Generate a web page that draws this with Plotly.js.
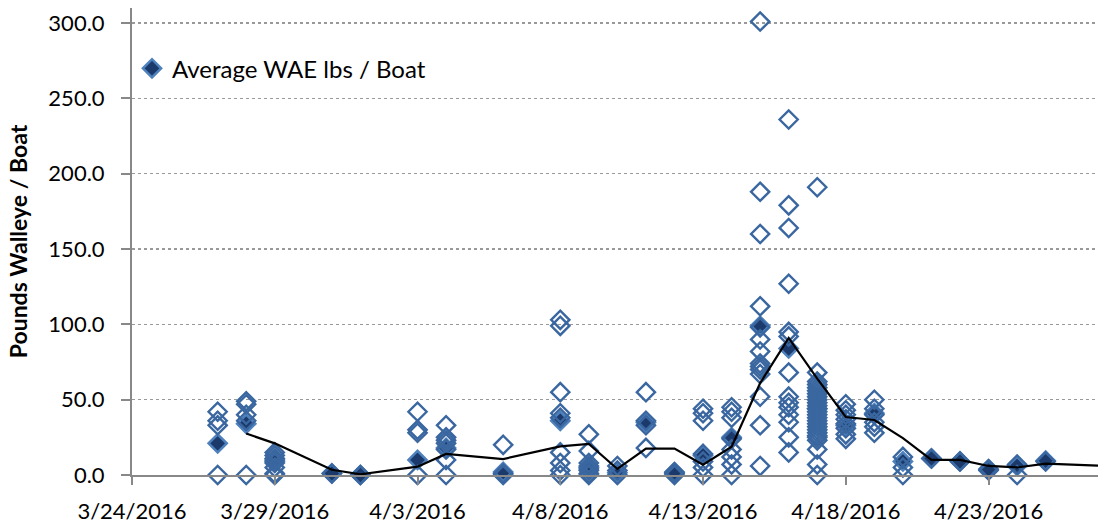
<!DOCTYPE html>
<html>
<head>
<meta charset="utf-8">
<script src="https://cdn.plot.ly/plotly-3.0.1.min.js"></script>
<style>html,body{margin:0;padding:0;background:#fff;}#chart{width:1098px;height:525px;}</style>
</head>
<body>
<div id="chart"></div>
<script>
// Individual boat catches (hollow diamonds), per survey day
const boatDays = ['2016-03-27','2016-03-28','2016-03-29','2016-03-31','2016-04-01','2016-04-03','2016-04-04','2016-04-06','2016-04-08','2016-04-09','2016-04-10','2016-04-11','2016-04-12','2016-04-13','2016-04-14','2016-04-15','2016-04-16','2016-04-17','2016-04-18','2016-04-19','2016-04-20','2016-04-21','2016-04-22','2016-04-23','2016-04-24','2016-04-25'];
const boatLbs = [
  [42, 36, 33, 0],
  [49, 47, 40, 36, 0],
  [15, 13, 11, 10, 8, 5, 1, 0],
  [1],
  [0],
  [42, 30, 28, 0],
  [33, 25, 23, 21, 17, 10, 0],
  [20, 1, 0],
  [103, 99, 55, 41, 38, 15, 8, 3, 0],
  [27, 16, 8, 6, 4, 3, 1, 0],
  [6, 3, 0],
  [55, 36, 33, 18],
  [2, 1, 0],
  [44, 41, 36, 14, 9, 5, 0],
  [45, 42, 38, 24, 17, 12, 7, 0],
  [301, 188, 160, 112, 98, 90, 82, 74, 72, 70, 67, 52, 33, 6],
  [236, 179, 164, 127, 95, 92, 68, 52, 48, 45, 40, 35, 25, 15],
  [191, 68, 62, 60, 58, 56, 54, 52, 50, 48, 46, 44, 42, 40, 38, 36, 34, 32, 30, 28, 26, 25, 23, 17, 7, 0],
  [47, 43, 40, 37, 34, 31, 27, 24],
  [50, 44, 40, 35, 32, 28],
  [12, 5, 0],
  [11],
  [9],
  [4, 3],
  [7, 0],
  [9]
];

// Daily average (filled diamonds)
const avgDates = ['2016-03-27','2016-03-28','2016-03-29','2016-03-31','2016-04-01','2016-04-03','2016-04-04','2016-04-06','2016-04-08','2016-04-09','2016-04-10','2016-04-11','2016-04-12','2016-04-13','2016-04-14','2016-04-15','2016-04-16','2016-04-17','2016-04-18','2016-04-19','2016-04-20','2016-04-21','2016-04-22','2016-04-23','2016-04-24','2016-04-25'];
const avgLbs = [21, 34, 9, 1, 0, 10, 18, 2, 36, 5, 1.5, 35, 1.5, 13, 25, 99, 84, 44, 33, 41, 9, 11, 9, 3.5, 6, 9.5];

// Moving-average trend line (black)
const trendDates = ['2016-03-28','2016-03-29','2016-03-31','2016-04-01','2016-04-03','2016-04-04','2016-04-06','2016-04-08','2016-04-09','2016-04-10','2016-04-11','2016-04-12','2016-04-13','2016-04-14','2016-04-15','2016-04-16','2016-04-17','2016-04-18','2016-04-19','2016-04-20','2016-04-21','2016-04-22','2016-04-23','2016-04-24','2016-04-25','2016-04-28'];
const trendLbs = [27.5, 21, 3.5, 0.5, 5.5, 14, 10.6, 19, 20.6, 4, 17.5, 17.5, 6.8, 18.8, 61, 91, 64, 38.5, 36.5, 24.5, 10, 10, 6, 5, 7.5, 5.5];

const legendLabel = 'Average WAE lbs / Boat';
const yTitle = 'Pounds Walleye / Boat';

const bx = [], by = [];
boatDays.forEach((d, i) => boatLbs[i].forEach(v => { bx.push(d); by.push(v); }));

const FONT = 'Lato, "Open Sans", sans-serif';

const traces = [
  {
    x: avgDates, y: avgLbs, type: 'scatter', mode: 'markers', name: legendLabel,
    cliponaxis: false,
    marker: {symbol: 'diamond', size: 14, color: '#1B3A6B', line: {color: '#4F81BD', width: 2.5}}
  },
  {
    x: bx, y: by, type: 'scatter', mode: 'markers', showlegend: false,
    cliponaxis: false,
    marker: {symbol: 'diamond-open', size: 14, color: '#3A67A0', line: {color: '#3A67A0', width: 2.4}}
  },
  {
    x: trendDates, y: trendLbs, type: 'scatter', mode: 'lines', showlegend: false,
    line: {color: '#000', width: 2.2}
  }
];

const layout = {
  width: 1098, height: 525,
  margin: {l: 132, r: 0, t: 8, b: 50},
  paper_bgcolor: '#fff', plot_bgcolor: '#fff',
  font: {family: FONT, size: 22, color: '#000'},
  showlegend: true,
  legend: {x: 0.0, y: 0.87, xanchor: 'left', yanchor: 'middle', bgcolor: 'rgba(0,0,0,0)',
           font: {family: FONT, size: 24, color: '#000'}, itemwidth: 30},
  xaxis: {
    type: 'date',
    range: ['2016-03-24', '2016-04-26 20:00'],
    tick0: '2016-03-24', dtick: 5 * 86400000,
    tickformat: '%-m/%-d/%Y',
    showgrid: false, zeroline: false,
    showline: true, linecolor: '#888', linewidth: 2,
    ticks: 'outside', ticklen: 8, tickwidth: 2, tickcolor: '#888',
    tickfont: {family: FONT, size: 22, color: '#000'},
    ticklabelstandoff: 8
  },
  yaxis: {
    range: [0, 310],
    tick0: 0, dtick: 50, tickformat: '.1f',
    showgrid: true, gridcolor: '#999', griddash: 'dot', gridwidth: 1.5,
    zeroline: true, zerolinecolor: '#888', zerolinewidth: 2,
    showline: true, linecolor: '#888', linewidth: 2,
    ticks: 'outside', ticklen: 9, tickwidth: 2, tickcolor: '#888',
    tickfont: {family: FONT, size: 22, color: '#000'},
    ticklabelstandoff: 12,
    title: {text: yTitle, font: {family: FONT, size: 23, color: '#000', weight: 'bold'}, standoff: 14}
  }
};

Plotly.newPlot('chart', traces, layout, {displayModeBar: false, staticPlot: true});
</script>
</body>
</html>
